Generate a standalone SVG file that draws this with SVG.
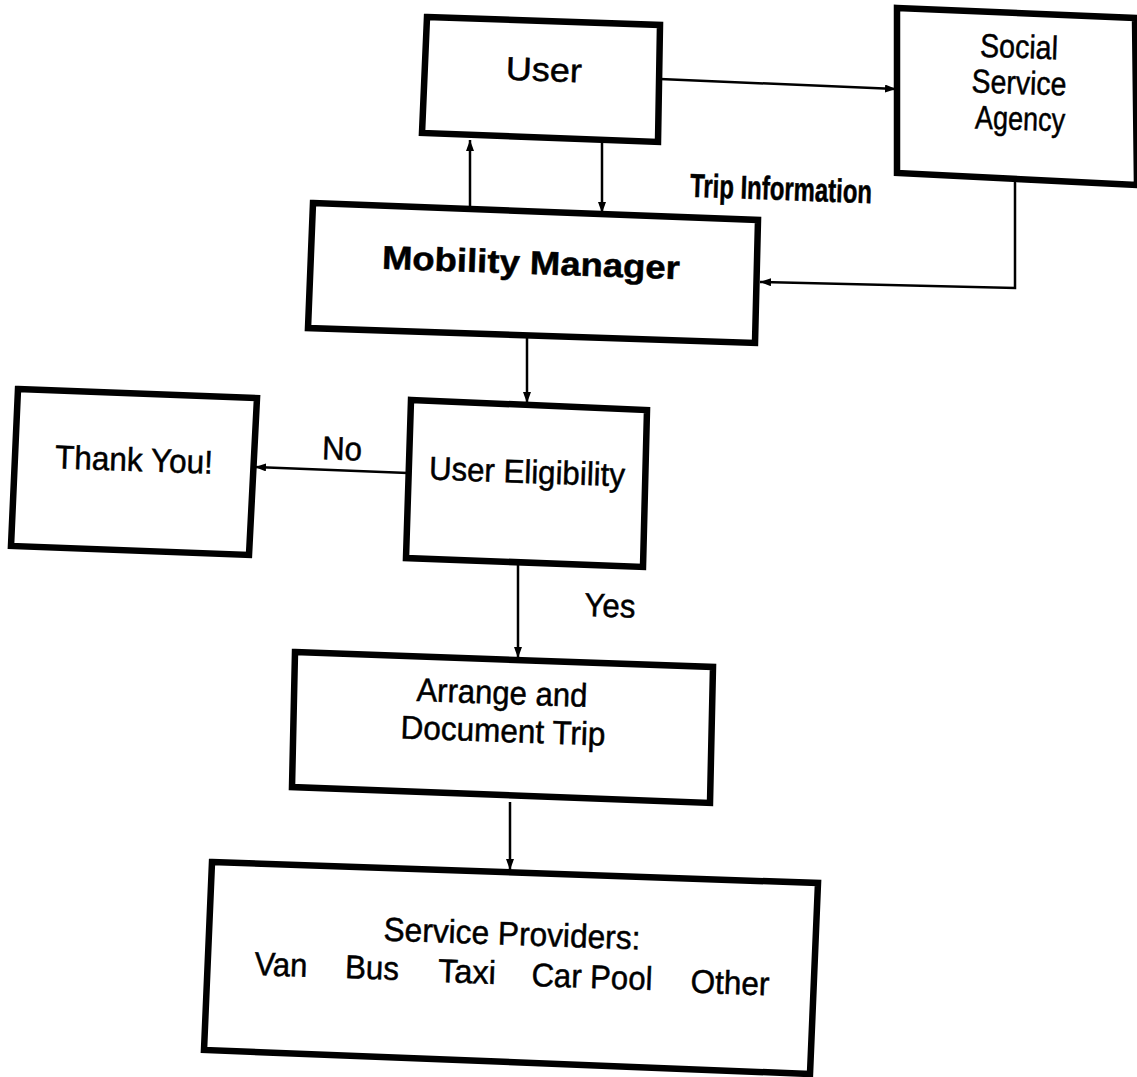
<svg xmlns="http://www.w3.org/2000/svg" width="1137" height="1077" viewBox="0 0 1137 1077">
<defs>
<marker id="ah" markerUnits="userSpaceOnUse" markerWidth="11" markerHeight="8" refX="11" refY="4" orient="auto">
<path d="M0,0 L11,4 L0,8 z" fill="#000"/>
</marker>
</defs>
<style>
.box{fill:#fff;stroke:#000;stroke-width:6.5;stroke-linejoin:miter}
.t{font-family:"Liberation Sans",Arial,Helvetica,sans-serif;font-size:33px;fill:#000;stroke:#000;stroke-width:0.5;text-anchor:middle}
.c{fill:none;stroke:#000;stroke-width:2.5;marker-end:url(#ah)}
</style>
<rect width="1137" height="1077" fill="#fff"/>
<g id="connectors">
<path class="c" d="M660,79 L896,89"/>
<path class="c" d="M470,208 L470,140"/>
<path class="c" d="M602,143 L602,213"/>
<path class="c" d="M1015,182 L1015,288 L760,282"/>
<path class="c" d="M527,338 L527,403"/>
<path class="c" d="M408,473 L255,467"/>
<path class="c" d="M518,564 L518,658"/>
<path class="c" d="M510,802 L510,870"/>
</g>
<g id="user">
<polygon class="box" points="427,17 660,25 658,142 422,133"/>
<text class="t" x="544" y="81" font-size="40" textLength="76" lengthAdjust="spacingAndGlyphs" transform="rotate(2 544 68)">User</text>
</g>
<g id="social-service-agency">
<polygon class="box" points="897,8 1135,18 1137,185 897,173"/>
<text class="t" x="1019" y="58" font-size="30" textLength="78" lengthAdjust="spacingAndGlyphs" transform="rotate(2 1019 48)">Social</text>
<text class="t" x="1019" y="94" font-size="30" textLength="95" lengthAdjust="spacingAndGlyphs" transform="rotate(2 1019 84)">Service</text>
<text class="t" x="1020" y="130" font-size="30" textLength="90" lengthAdjust="spacingAndGlyphs" transform="rotate(2 1020 120)">Agency</text>
</g>
<g id="trip-information-label">
<text class="t" x="781" y="200" font-size="25" font-weight="bold" stroke-width="0" textLength="182" lengthAdjust="spacingAndGlyphs" transform="rotate(2 781 192)">Trip Information</text>
</g>
<g id="mobility-manager">
<polygon class="box" points="313,203 758,220 755,343 308,328"/>
<text class="t" x="531" y="274" font-size="36" font-weight="bold" textLength="298" lengthAdjust="spacingAndGlyphs" transform="rotate(2 531 262)">Mobility Manager</text>
</g>
<g id="thank-you">
<polygon class="box" points="18,389 257,398 249,555 11,546"/>
<text class="t" x="134" y="471" textLength="158" lengthAdjust="spacingAndGlyphs" transform="rotate(2 134 460)">Thank You!</text>
</g>
<g id="no-label">
<text class="t" x="342" y="460" textLength="40" lengthAdjust="spacingAndGlyphs" transform="rotate(2 342 450)">No</text>
</g>
<g id="user-eligibility">
<polygon class="box" points="411,400 647,410 643,567 406,558"/>
<text class="t" x="527" y="483" textLength="196" lengthAdjust="spacingAndGlyphs" transform="rotate(2 527 471)">User Eligibility</text>
</g>
<g id="yes-label">
<text class="t" x="610" y="617" textLength="51" lengthAdjust="spacingAndGlyphs" transform="rotate(2 610 605)">Yes</text>
</g>
<g id="arrange-trip">
<polygon class="box" points="295,652 713,667 710,803 292,787"/>
<text class="t" x="502" y="704" textLength="171" lengthAdjust="spacingAndGlyphs" transform="rotate(2 502 692)">Arrange and</text>
<text class="t" x="503" y="742" textLength="205" lengthAdjust="spacingAndGlyphs" transform="rotate(2 503 730)">Document Trip</text>
</g>
<g id="service-providers">
<polygon class="box" points="212,862 818,883 810,1074 204,1050"/>
<text class="t" x="512" y="945" textLength="257" lengthAdjust="spacingAndGlyphs" transform="rotate(2 512 934)">Service Providers:</text>
<text class="t" x="281" y="976" textLength="53" lengthAdjust="spacingAndGlyphs" transform="rotate(2 281 965)">Van</text>
<text class="t" x="372" y="979" textLength="54" lengthAdjust="spacingAndGlyphs" transform="rotate(2 372 968)">Bus</text>
<text class="t" x="467" y="983" textLength="58" lengthAdjust="spacingAndGlyphs" transform="rotate(2 467 972)">Taxi</text>
<text class="t" x="592" y="988" textLength="121" lengthAdjust="spacingAndGlyphs" transform="rotate(2 592 977)">Car Pool</text>
<text class="t" x="730" y="994" textLength="79" lengthAdjust="spacingAndGlyphs" transform="rotate(2 730 983)">Other</text>
</g>
</svg>
